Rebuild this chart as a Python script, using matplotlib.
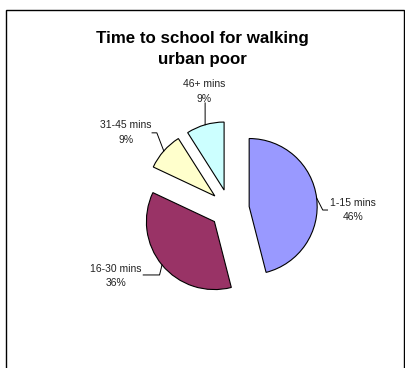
import matplotlib.pyplot as plt
from matplotlib.patches import Rectangle
import numpy as np

categories = ["1-15 mins", "16-30 mins", "31-45 mins", "46+ mins"]
shares = [46, 36, 9, 9]
colors = ["#9999FF", "#993366", "#FFFFCC", "#CCFFFF"]

# label anchor (x, y, ha) and leader elbow/end points, in pie units
label_pos = [(1.48, -0.015, "left"), (-1.29, -0.985, "right"),
             (-1.15, 1.12, "right"), (-0.376, 1.73, "center")]
leader_pts = [[(1.37, -0.015), (1.44, -0.015)],
              [(-1.03, -0.97), (-1.27, -0.97)],
              [(-1.07, 1.12), (-1.14, 1.12)],
              [(-0.36, 1.56)]]

plt.rcParams['font.family'] = ['Liberation Sans', 'DejaVu Sans']

fig = plt.figure(figsize=(4.05, 3.68), dpi=100)
ax = fig.add_axes([120.8 / 405, 50.2 / 368, 217.6 / 405, 217.6 / 368])

wedges, _ = ax.pie(shares, colors=colors, startangle=90, counterclock=False,
                   explode=[0.29] * 4, radius=1,
                   wedgeprops=dict(edgecolor="black", linewidth=0.8))
ax.set_xlim(-1.6, 1.6)
ax.set_ylim(-1.6, 1.6)
ax.set_aspect("equal")
ax.axis("off")

for w, cat, val, (lx, ly, ha), pts in zip(wedges, categories, shares, label_pos, leader_pts):
    mid = np.deg2rad((w.theta1 + w.theta2) / 2)
    cx, cy = w.center
    start = (cx + np.cos(mid), cy + np.sin(mid))
    xs = [start[0]] + [p[0] for p in pts]
    ys = [start[1]] + [p[1] for p in pts]
    ax.plot(xs, ys, color="black", linewidth=0.7, clip_on=False)
    ax.text(lx, ly, f"{cat}\n{val}%", ha=ha, va="center", multialignment="center",
            fontsize=7.5, color="#222222", linespacing=1.6)

fig.text(0.5, 1 - 49 / 368, "Time to school for walking\nurban poor", ha="center",
         va="center", fontsize=12.2, fontweight="bold", linespacing=1.45)

fig.patches.append(Rectangle((6 / 405, -0.05), 398 / 405, 1.05 - 10 / 368,
                             transform=fig.transFigure, fill=False,
                             edgecolor="black", linewidth=1))

fig.savefig("out.png", dpi=100)
